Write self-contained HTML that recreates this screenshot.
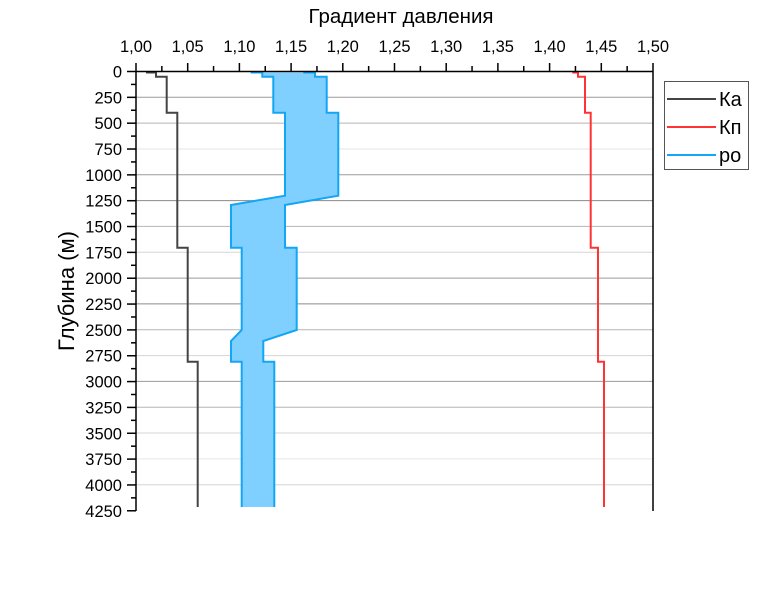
<!DOCTYPE html>
<html><head><meta charset="utf-8"><style>
body{margin:0;background:#fff;}
svg{display:block;font-family:"Liberation Sans",sans-serif;}
</style></head><body>
<svg width="759" height="614" viewBox="0 0 759 614" xmlns="http://www.w3.org/2000/svg">
<rect width="759" height="614" fill="#fff"/>
<g stroke-width="1">
<line x1="136" x2="653" y1="97.3" y2="97.3" stroke="#9a9a9a"/>
<line x1="136" x2="653" y1="123.1" y2="123.1" stroke="#b5b5b5"/>
<line x1="136" x2="653" y1="149" y2="149" stroke="#e6e6e6"/>
<line x1="136" x2="653" y1="174.8" y2="174.8" stroke="#9a9a9a"/>
<line x1="136" x2="653" y1="200.6" y2="200.6" stroke="#8a8a8a"/>
<line x1="136" x2="653" y1="226.4" y2="226.4" stroke="#b5b5b5"/>
<line x1="136" x2="653" y1="252.3" y2="252.3" stroke="#d5d5d5"/>
<line x1="136" x2="653" y1="278.1" y2="278.1" stroke="#9a9a9a"/>
<line x1="136" x2="653" y1="303.9" y2="303.9" stroke="#8a8a8a"/>
<line x1="136" x2="653" y1="329.7" y2="329.7" stroke="#b5b5b5"/>
<line x1="136" x2="653" y1="355.6" y2="355.6" stroke="#d5d5d5"/>
<line x1="136" x2="653" y1="381.4" y2="381.4" stroke="#9a9a9a"/>
<line x1="136" x2="653" y1="407.2" y2="407.2" stroke="#b5b5b5"/>
<line x1="136" x2="653" y1="433" y2="433" stroke="#d5d5d5"/>
<line x1="136" x2="653" y1="458.9" y2="458.9" stroke="#e6e6e6"/>
<line x1="136" x2="653" y1="484.7" y2="484.7" stroke="#d5d5d5"/>
</g>
<path d="M250.7,72.5 L262.3,72.5 L262.3,76.7 L273.3,76.7 L273.3,112.7 L285,112.7 L285,195.7 L231,205 L231,247.7 L241.7,247.7 L241.7,330 L231,341 L231,361.7 L241.7,361.7 L241.7,507 L274.3,507 L274.3,361.7 L263.3,361.7 L263.3,341 L296.7,330 L296.7,247.7 L285,247.7 L285,205 L338.3,195.7 L338.3,112.7 L326.7,112.7 L326.7,76.7 L315,76.7 L315,72.5 L303.3,72.5" fill="#80d0ff" stroke="none"/>
<path d="M250.7,72.5 L262.3,72.5 L262.3,76.7 L273.3,76.7 L273.3,112.7 L285,112.7 L285,195.7 L231,205 L231,247.7 L241.7,247.7 L241.7,330 L231,341 L231,361.7 L241.7,361.7 L241.7,507" fill="none" stroke="#14a5f5" stroke-width="2"/>
<path d="M303.3,72.5 L315,72.5 L315,76.7 L326.7,76.7 L326.7,112.7 L338.3,112.7 L338.3,195.7 L285,205 L285,247.7 L296.7,247.7 L296.7,330 L263.3,341 L263.3,361.7 L274.3,361.7 L274.3,507" fill="none" stroke="#14a5f5" stroke-width="2"/>
<path d="M146,72.5 L156,72.5 L156,76.7 L166.7,76.7 L166.7,112.7 L177.3,112.7 L177.3,247.7 L187.7,247.7 L187.7,361.7 L197.7,361.7 L197.7,507" fill="none" stroke="#444" stroke-width="2"/>
<path d="M572.3,72.5 L578,72.5 L578,76.7 L585,76.7 L585,112.7 L590.7,112.7 L590.7,247.7 L598,247.7 L598,361.7 L604,361.7 L604,507" fill="none" stroke="#ff3333" stroke-width="2"/>
<g stroke="#000" stroke-width="1.5" fill="none">
<line x1="136" y1="71.5" x2="653" y2="71.5"/>
<line x1="136" y1="71.5" x2="136" y2="511"/>
<line x1="653" y1="71.5" x2="653" y2="511"/>
</g>
<g stroke="#000" stroke-width="1.5" id="xt"></g>
<g font-size="16.5" fill="#000" text-anchor="middle" id="xl"></g>
<g font-size="16.5" fill="#000" text-anchor="end" id="yl"></g>
<text x="401" y="23" font-size="20.5" text-anchor="middle">Градиент давления</text>
<text transform="translate(74,291) rotate(-90)" font-size="22" text-anchor="middle">Глубина (м)</text>
<rect x="664.5" y="81.5" width="84" height="88" fill="#fff" stroke="#555" stroke-width="1"/>
<line x1="667" x2="716" y1="99" y2="99" stroke="#444" stroke-width="2"/>
<line x1="667" x2="716" y1="127" y2="127" stroke="#ff3333" stroke-width="2"/>
<line x1="667" x2="716" y1="155" y2="155" stroke="#14a5f5" stroke-width="2"/>
<text x="719" y="106" font-size="20">Ка</text>
<text x="719" y="134" font-size="20">Кп</text>
<text x="719" y="162" font-size="20">ро</text>
<script>
var ns="http://www.w3.org/2000/svg";
var xt=document.getElementById('xt'),xl=document.getElementById('xl'),yl=document.getElementById('yl');
function ln(x1,y1,x2,y2){var l=document.createElementNS(ns,'line');l.setAttribute('x1',x1);l.setAttribute('y1',y1);l.setAttribute('x2',x2);l.setAttribute('y2',y2);xt.appendChild(l);}
for(var i=0;i<=20;i++){var x=136+i*25.85;ln(x,71.5,x,i%2?66:63);
 if(i%2==0){var t=document.createElementNS(ns,'text');t.setAttribute('x',x);t.setAttribute('y',52);t.textContent=(1+i*0.025).toFixed(2).replace('.',',');xl.appendChild(t);}}
for(var j=0;j<=34;j++){var y=71.5+j*12.92;ln(136,y,j%2?131:127,y);
 if(j%2==0){var t=document.createElementNS(ns,'text');t.setAttribute('x',122);t.setAttribute('y',y+6);t.textContent=String(j*125);yl.appendChild(t);}}
</script>
</svg>
</body></html>
